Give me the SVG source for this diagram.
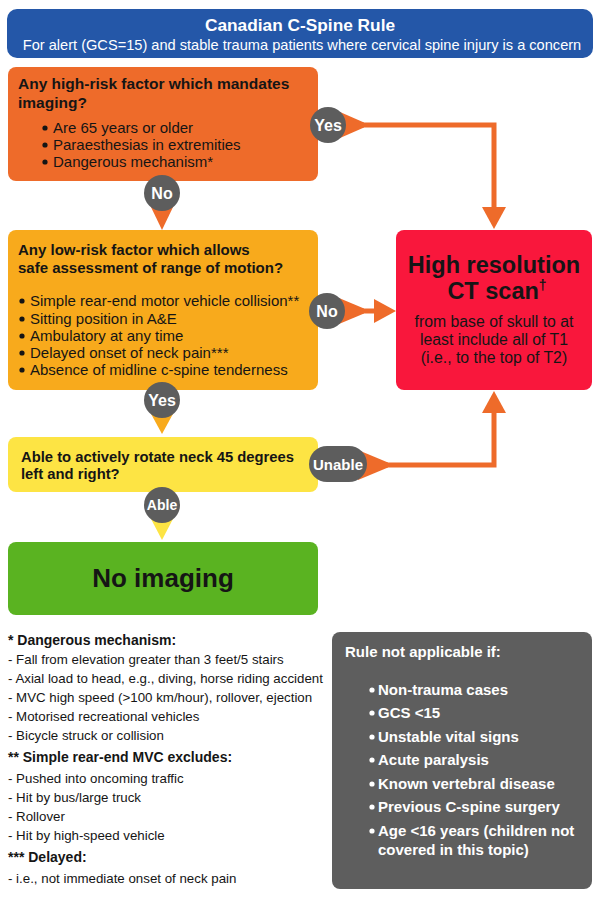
<svg xmlns="http://www.w3.org/2000/svg" width="600" height="898" viewBox="0 0 600 898">
<style>
text{font-family:"Liberation Sans",Arial,sans-serif;fill:#151515}
.b{font-weight:bold}
.w{fill:#fff}
.h{font-size:15px;font-weight:bold}
.li{font-size:15px}
.fn{font-size:13.3px}
.fh{font-size:14px;font-weight:bold}
.gl{font-size:15px;font-weight:bold;fill:#fff}
.bub{fill:#5d5d5d}
.bt{font-weight:bold;fill:#fff;text-anchor:middle}
.con{fill:none;stroke:#ee6b2a;stroke-width:5;stroke-linejoin:miter}
.dot{fill:#151515}
.wdot{fill:#fff}
</style>
<defs>
<marker id="ah" markerUnits="userSpaceOnUse" markerWidth="22" markerHeight="24" refX="1" refY="12" orient="auto">
<path d="M0,0 L22,12 L0,24 z" fill="#ee6b2a"/>
</marker>
</defs>
<rect width="600" height="898" fill="#fff"/>

<g id="title">
<rect x="7" y="9" width="586" height="49" rx="10" fill="#2457a8"/>
<text x="300" y="31" text-anchor="middle" class="b w" font-size="17.3">Canadian C-Spine Rule</text>
<text x="302" y="50" text-anchor="middle" class="w" font-size="14.6">For alert (GCS=15) and stable trauma patients where cervical spine injury is a concern</text>
</g>

<g id="high-risk">
<rect x="8" y="67" width="310" height="114" rx="8" fill="#ee6b2a"/>
<text x="18" y="89" class="b" font-size="15.5">Any high-risk factor which mandates</text>
<text x="18" y="108" class="b" font-size="15.5">imaging?</text>
<circle cx="45" cy="128" r="2.6" class="dot"/>
<text x="53" y="133" class="li">Are 65 years or older</text>
<circle cx="45" cy="145" r="2.6" class="dot"/>
<text x="53" y="150" class="li">Paraesthesias in extremities</text>
<circle cx="45" cy="162" r="2.6" class="dot"/>
<text x="53" y="167" class="li">Dangerous mechanism*</text>
</g>

<g id="low-risk">
<rect x="8" y="230" width="310" height="160" rx="8" fill="#f8aa1c"/>
<text x="18" y="255" class="h">Any low-risk factor which allows</text>
<text x="18" y="273" class="h">safe assessment of range of motion?</text>
<circle cx="22" cy="301" r="2.6" class="dot"/>
<text x="30" y="306" class="li">Simple rear-end motor vehicle collision**</text>
<circle cx="22" cy="319" r="2.6" class="dot"/>
<text x="30" y="324" class="li">Sitting position in A&amp;E</text>
<circle cx="22" cy="336" r="2.6" class="dot"/>
<text x="30" y="341" class="li">Ambulatory at any time</text>
<circle cx="22" cy="353" r="2.6" class="dot"/>
<text x="30" y="358" class="li">Delayed onset of neck pain***</text>
<circle cx="22" cy="370" r="2.6" class="dot"/>
<text x="30" y="375" class="li">Absence of midline c-spine tenderness</text>
</g>

<g id="ct-scan">
<rect x="396" y="230" width="196" height="160" rx="8" fill="#f9173c"/>
<text x="494" y="273" text-anchor="middle" class="b" font-size="23.5">High resolution</text>
<text x="497" y="299" text-anchor="middle" class="b" font-size="23.5">CT scan<tspan font-size="14" dy="-9">†</tspan></text>
<text x="494" y="327" text-anchor="middle" font-size="15.8">from base of skull to at</text>
<text x="494" y="345" text-anchor="middle" font-size="15.8">least include all of T1</text>
<text x="494" y="363" text-anchor="middle" font-size="15.8">(i.e., to the top of T2)</text>
</g>

<g id="rotate">
<rect x="8" y="437" width="310" height="55" rx="8" fill="#fde444"/>
<text x="21" y="462" class="b" font-size="14.8">Able to actively rotate neck 45 degrees</text>
<text x="21" y="479" class="b" font-size="14.8">left and right?</text>
</g>

<g id="no-imaging">
<rect x="8" y="542" width="310" height="73" rx="8" fill="#5ab321"/>
<text x="163" y="587" text-anchor="middle" class="b" font-size="26">No imaging</text>
</g>

<g id="connectors">
<path class="con" d="M360,125 H494 V208" marker-end="url(#ah)"/>
<path class="con" d="M360,311 H375" marker-end="url(#ah)"/>
<path class="con" d="M384,465 H494 V412" marker-end="url(#ah)"/>
<g id="lbl-yes1">
<polygon points="340,112 364,122.5 364,127.5 340,138" fill="#ee6b2a"/>
<circle cx="328" cy="125" r="18" class="bub"/>
<text x="328" y="131" class="bt" font-size="16">Yes</text>
</g>
<g id="lbl-no1">
<polygon points="150,205 174,205 162,230" fill="#ee6b2a"/>
<circle cx="162" cy="193" r="18" class="bub"/>
<text x="162" y="199" class="bt" font-size="16">No</text>
</g>
<g id="lbl-no2">
<polygon points="339,298 364,308.5 364,313.5 339,324" fill="#ee6b2a"/>
<circle cx="327" cy="311" r="18" class="bub"/>
<text x="327" y="317" class="bt" font-size="16">No</text>
</g>
<g id="lbl-yes2">
<polygon points="150,412 174,412 162,434" fill="#f8aa1c"/>
<circle cx="162" cy="400" r="18" class="bub"/>
<text x="162" y="406" class="bt" font-size="16">Yes</text>
</g>
<g id="lbl-unable">
<polygon points="358,450 388,462.5 388,467.5 358,480" fill="#ee6b2a"/>
<rect x="309" y="446" width="58" height="36" rx="18" class="bub"/>
<text x="338" y="470" class="bt" font-size="15">Unable</text>
</g>
<g id="lbl-able">
<polygon points="150,517 174,517 162,540" fill="#fde444"/>
<circle cx="162" cy="505" r="18" class="bub"/>
<text x="162" y="510" class="bt" font-size="14">Able</text>
</g>
</g>

<g id="footnotes">
<text x="8" y="645" class="fh">* Dangerous mechanism:</text>
<text x="8" y="664" class="fn">- Fall from elevation greater than 3 feet/5 stairs</text>
<text x="8" y="683" class="fn">- Axial load to head, e.g., diving, horse riding accident</text>
<text x="8" y="702" class="fn">- MVC high speed (&gt;100 km/hour), rollover, ejection</text>
<text x="8" y="721" class="fn">- Motorised recreational vehicles</text>
<text x="8" y="740" class="fn">- Bicycle struck or collision</text>
<text x="8" y="762" class="fh">** Simple rear-end MVC excludes:</text>
<text x="8" y="783" class="fn">- Pushed into oncoming traffic</text>
<text x="8" y="802" class="fn">- Hit by bus/large truck</text>
<text x="8" y="821" class="fn">- Rollover</text>
<text x="8" y="840" class="fn">- Hit by high-speed vehicle</text>
<text x="8" y="862" class="fh">*** Delayed:</text>
<text x="8" y="883" class="fn">- i.e., not immediate onset of neck pain</text>
</g>

<g id="not-applicable">
<rect x="332" y="632" width="260" height="257" rx="8" fill="#5e5e5e"/>
<text x="345" y="657" class="gl">Rule not applicable if:</text>
<circle cx="372" cy="690" r="2.6" class="wdot"/>
<text x="378" y="695" class="gl">Non-trauma cases</text>
<circle cx="372" cy="713" r="2.6" class="wdot"/>
<text x="378" y="718" class="gl">GCS &lt;15</text>
<circle cx="372" cy="737" r="2.6" class="wdot"/>
<text x="378" y="742" class="gl">Unstable vital signs</text>
<circle cx="372" cy="760" r="2.6" class="wdot"/>
<text x="378" y="765" class="gl">Acute paralysis</text>
<circle cx="372" cy="784" r="2.6" class="wdot"/>
<text x="378" y="789" class="gl">Known vertebral disease</text>
<circle cx="372" cy="807" r="2.6" class="wdot"/>
<text x="378" y="812" class="gl">Previous C-spine surgery</text>
<circle cx="372" cy="831" r="2.6" class="wdot"/>
<text x="378" y="836" class="gl">Age &lt;16 years (children not</text>
<text x="378" y="855" class="gl">covered in this topic)</text>
</g>
</svg>
